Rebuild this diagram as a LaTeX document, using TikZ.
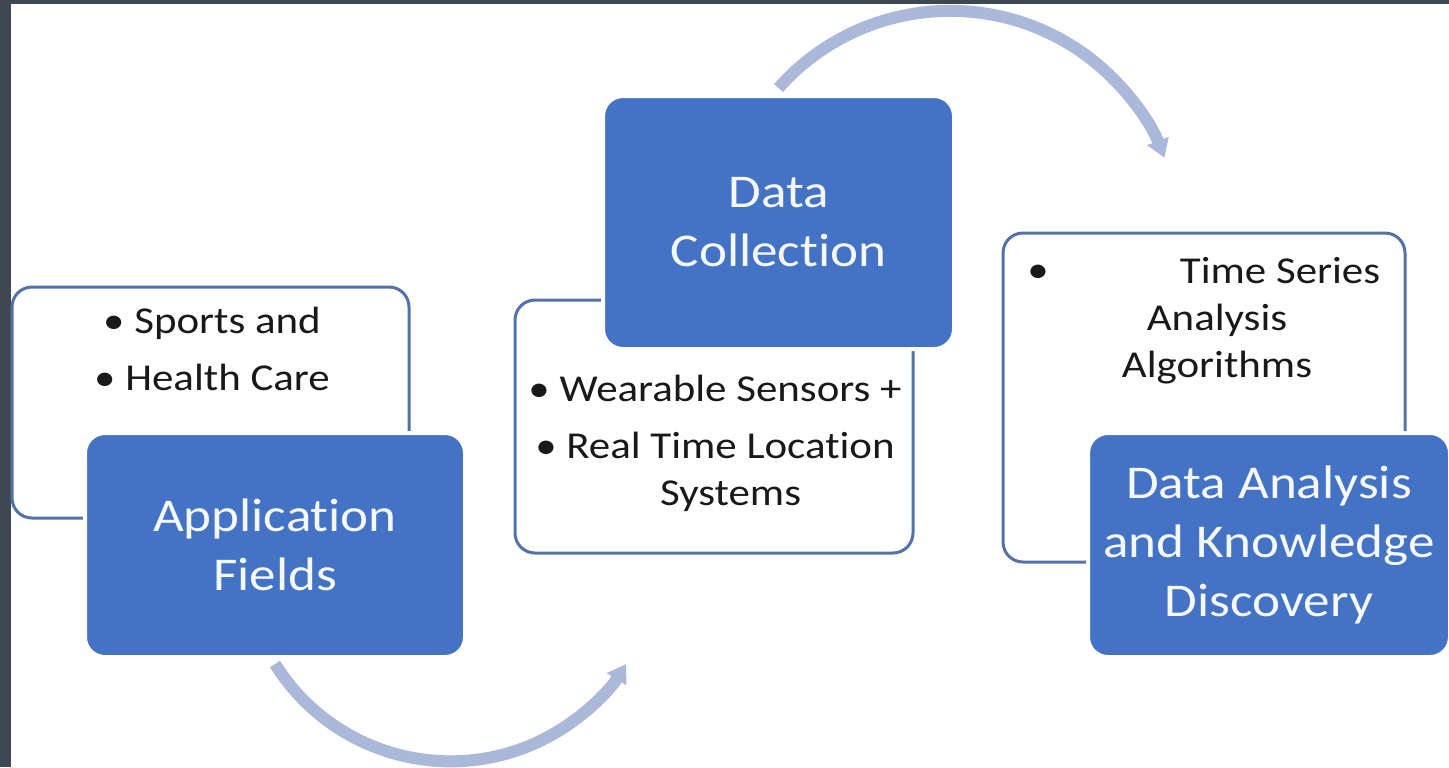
\documentclass[tikz,border=0pt]{standalone}
\usepackage{fontspec}
\setmainfont{Carlito}[FakeStretch=1.13, Ligatures=NoCommon]
\usetikzlibrary{arrows.meta}
\definecolor{framecol}{RGB}{61,72,83}
\definecolor{boxblue}{RGB}{68,114,196}
\definecolor{outlinecol}{RGB}{84,114,170}
\definecolor{flowcol}{RGB}{170,184,218}
\definecolor{txtcol}{RGB}{25,25,25}
\definecolor{wtxtcol}{RGB}{245,248,255}
\begin{document}
\begin{tikzpicture}[x=0.5pt,y=-0.5pt,
  outerbox/.style={draw=outlinecol, line width=1.5pt, fill=white, rounded corners=10pt, rectangle, inner sep=0pt},
  mainbox/.style={draw=white, line width=2pt, fill=boxblue, rounded corners=10pt, rectangle, inner sep=0pt, text=wtxtcol, align=center, font=\fontsize{23.5}{29.5}\selectfont},
  bullettext/.style={text=txtcol, align=center, font=\fontsize{19}{23.5}\selectfont, inner sep=0pt},
  flow/.style={draw=flowcol, line width=6pt, -{Triangle[width=11pt,length=9pt]}}
]
\useasboundingbox (0,0) rectangle (1449,767);
\fill[white] (0,0) rectangle (1449,767);
\fill[framecol] (0,0) rectangle (11,767);
\fill[framecol] (0,0) rectangle (1449,4);

% box 1
\node[outerbox, minimum width=198.5pt, minimum height=115.5pt] (w1) at (210.5,402.5) {};
\node[mainbox, minimum width=190pt, minimum height=112pt] (b1) at (275,545) {Application\\Fields};
\node[bullettext, anchor=base] (w1t) at (212,390) {• Sports and\\[5pt]• Health Care};

% box 2
\node[outerbox, minimum width=199pt, minimum height=126.5pt] (w2) at (714,426.5) {};
\node[mainbox, minimum width=175.5pt, minimum height=126.5pt] (b2) at (778.5,222.5) {Data\\Collection};
\node[bullettext, anchor=base] (w2t) at (715,505) {• Wearable Sensors +\\[5pt]• Real Time Location\\\phantom{• }Systems};

% box 3
\node[outerbox, minimum width=201pt, minimum height=164.5pt] (w3) at (1204,397.5) {};
\node[mainbox, minimum width=181pt, minimum height=112pt] (b3) at (1269,545) {Data Analysis\\and Knowledge\\Discovery};
\node[bullettext, anchor=base] (w3b) at (1038,282) {•};
\node[bullettext, anchor=base] (w3t) at (1217,377) {\hspace*{63pt}Time Series\\Analysis\\Algorithms};

% flow arrows
\coordinate (s1) at ([yshift=-2.5pt]b1.south);
\draw[flow] (s1) arc[start angle=148, end angle=32, radius=207];
\coordinate (s2) at ([yshift=3pt]b2.north);
\draw[flow] (s2) arc[start angle=221.6, end angle=338.9, radius=229.6];
\end{tikzpicture}
\end{document}
